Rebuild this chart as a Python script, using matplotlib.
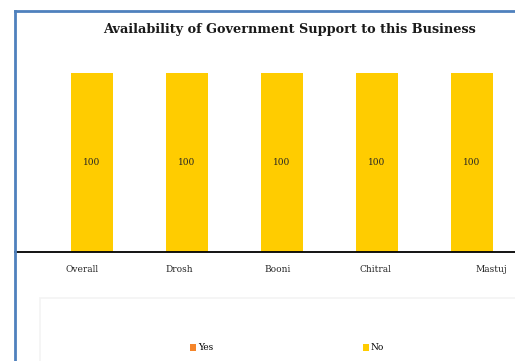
import matplotlib
matplotlib.use("Agg")
import matplotlib.pyplot as plt
from matplotlib.patches import Rectangle
from matplotlib.lines import Line2D
import matplotlib.transforms as mtransforms

# Survey results per area
categories = ["Overall", "Drosh", "Booni", "Chitral", "Mastuj"]
yes_pct = [0, 0, 0, 0, 0]
no_pct = [100, 100, 100, 100, 100]

title = "Availability of Government Support to this Business"

W, H = 515, 361
DPI = 100
fig = plt.figure(figsize=(W / DPI, H / DPI), dpi=DPI)
fig.patch.set_facecolor("white")

serif = ["DejaVu Serif"]
yes_color = "#F5852A"
no_color = "#FFCC00"
frame_blue = "#4F81BD"

# plot area: left edge on the chart frame, baseline at y=252 px
left_px, right_px = 15, 515
bottom_px, top_px = 252, 73
ax = fig.add_axes([left_px / W, 1 - bottom_px / H,
                   (right_px - left_px) / W, (bottom_px - top_px) / H])

x = list(range(len(categories)))
bar_w = 0.45
b_yes = ax.bar(x, yes_pct, width=bar_w, color=yes_color, label="Yes")
b_no = ax.bar(x, no_pct, width=bar_w, bottom=yes_pct, color=no_color, label="No")

# value labels in the middle of each "No" segment
for xi, y0, v in zip(x, yes_pct, no_pct):
    ax.text(xi, y0 + v / 2, f"{v:g}", ha="center", va="center",
            fontsize=6.5, family=serif, color="#262626")

ax.set_ylim(0, 100)
ax.set_xlim(-0.8105, 4.4526)
for s in ["top", "right", "left"]:
    ax.spines[s].set_visible(False)
ax.spines["bottom"].set_color("black")
ax.spines["bottom"].set_linewidth(1.3)
ax.set_yticks([])
ax.set_xticks(x)
ax.set_xticklabels(categories, fontsize=6.5, family=serif, color="#262626")
ax.tick_params(axis="x", length=0, pad=9)

# category label nudges (px)
nudges = [-10, -8, -4.5, -1.5, 19.5]
for lab, dx in zip(ax.get_xticklabels(), nudges):
    lab.set_transform(lab.get_transform() +
                      mtransforms.ScaledTranslation(dx / DPI, 0, fig.dpi_scale_trans))

fig.text(289 / W, 1 - 30 / H, title, ha="center", va="center",
         fontsize=9.3, fontweight="bold", family=serif, color="#1a1a1a")

# chart frame (left and top borders)
fig.add_artist(Line2D([left_px / W, left_px / W], [0, 1 - 11 / H],
                      transform=fig.transFigure, color=frame_blue, lw=2))
fig.add_artist(Line2D([left_px / W, 1], [1 - 11 / H, 1 - 11 / H],
                      transform=fig.transFigure, color=frame_blue, lw=2))

# faint legend panel
fig.add_artist(Rectangle((40 / W, -0.05), 1.0, 1 - 298 / H + 0.05,
                         transform=fig.transFigure, facecolor="white",
                         edgecolor="#F3F3F3", lw=1.2))

leg = fig.legend(handles=[b_yes, b_no], labels=["Yes", "No"], ncol=2,
                 loc="center left", bbox_to_anchor=(190 / W, 1 - 348 / H),
                 frameon=False, prop={"family": serif, "size": 6.5},
                 handlelength=0.7, handleheight=0.7, handletextpad=0.2,
                 columnspacing=16.55, borderaxespad=0, borderpad=0)

fig.savefig("out.png", dpi=DPI, facecolor="white")
